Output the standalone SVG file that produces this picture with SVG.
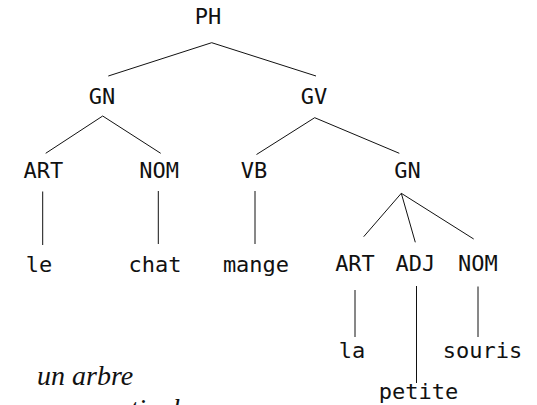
<svg xmlns="http://www.w3.org/2000/svg" width="537" height="405" viewBox="0 0 537 405">
  <style>
    .lbl { font-family: "DejaVu Sans Mono", "Liberation Mono", monospace; font-size: 22px; fill: #111; text-anchor: middle; }
    .edge { stroke: #111; stroke-width: 1; fill: none; }
    .caption { font-family: "Liberation Serif", "DejaVu Serif", serif; font-style: italic; font-size: 28px; fill: #111; }
  </style>
  <rect width="537" height="405" fill="#fff"/>

  <!-- branches of the tree -->
  <g id="connectors">
    <line class="edge" x1="211.7" y1="42.7" x2="108.3" y2="76"/>
    <line class="edge" x1="211.7" y1="42.7" x2="316" y2="76"/>
    <line class="edge" x1="102.7" y1="116" x2="45.7" y2="153.3"/>
    <line class="edge" x1="102.7" y1="116" x2="160.7" y2="153.3"/>
    <line class="edge" x1="314.7" y1="117.7" x2="256.5" y2="154.5"/>
    <line class="edge" x1="314.7" y1="117.7" x2="399.3" y2="153.3"/>
    <line class="edge" x1="42.7" y1="191.5" x2="42.7" y2="245"/>
    <line class="edge" x1="158.3" y1="191" x2="158.3" y2="244"/>
    <line class="edge" x1="255" y1="191" x2="255" y2="244"/>
    <line class="edge" x1="401.3" y1="193.3" x2="363.7" y2="236.7"/>
    <line class="edge" x1="401.3" y1="193.3" x2="415.3" y2="242.3"/>
    <line class="edge" x1="401.3" y1="193.3" x2="473.7" y2="239"/>
    <line class="edge" x1="355" y1="290" x2="355" y2="337"/>
    <line class="edge" x1="416.5" y1="286" x2="416.5" y2="383"/>
    <line class="edge" x1="478" y1="286.5" x2="478" y2="337"/>
  </g>

  <g id="n-ph"><text class="lbl" x="208" y="23.5">PH</text></g>
  <g id="n-gn1"><text class="lbl" x="102" y="104">GN</text></g>
  <g id="n-gv"><text class="lbl" x="314" y="104">GV</text></g>
  <g id="n-art1"><text class="lbl" x="43.3" y="178">ART</text></g>
  <g id="n-nom1"><text class="lbl" x="159.2" y="178">NOM</text></g>
  <g id="n-vb"><text class="lbl" x="254" y="178">VB</text></g>
  <g id="n-gn2"><text class="lbl" x="407.5" y="178">GN</text></g>
  <g id="n-le"><text class="lbl" x="39" y="271.5">le</text></g>
  <g id="n-chat"><text class="lbl" x="155" y="271.5">chat</text></g>
  <g id="n-mange"><text class="lbl" x="256" y="271.5">mange</text></g>
  <g id="n-art2"><text class="lbl" x="355" y="271">ART</text></g>
  <g id="n-adj"><text class="lbl" x="415.3" y="271">ADJ</text></g>
  <g id="n-nom2"><text class="lbl" x="477.8" y="271">NOM</text></g>
  <g id="n-la"><text class="lbl" x="352" y="357.5">la</text></g>
  <g id="n-souris"><text class="lbl" x="482.5" y="357.5">souris</text></g>
  <g id="n-petite"><text class="lbl" x="418.5" y="398.5">petite</text></g>

  <g id="caption">
    <text class="caption" x="37" y="385">un arbre</text>
    <text class="caption" x="37" y="418">grammatical</text>
  </g>
</svg>
